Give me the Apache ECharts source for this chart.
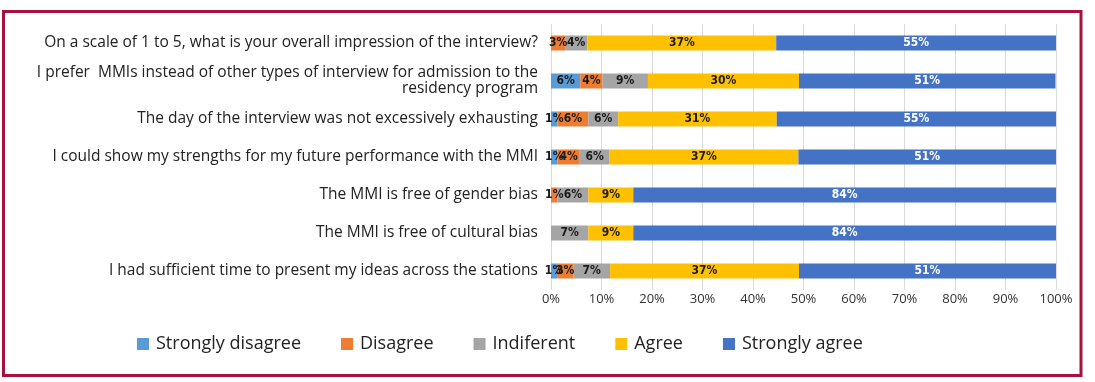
<!DOCTYPE html>
<html>
<head>
<meta charset="utf-8">
<script src="https://cdn.jsdelivr.net/npm/echarts@6/dist/echarts.min.js"></script>
<style>
html,body{margin:0;padding:0;background:#fff;}
#chart{width:1095px;height:382px;}
</style>
</head>
<body>
<div id="chart"></div>
<script>
const categories = [
  "On a scale of 1 to 5, what is your overall impression of the interview?",
  "I prefer  MMIs instead of other types of interview for admission to the\nresidency program",
  "The day of the interview was not excessively exhausting",
  "I could show my strengths for my future performance with the MMI",
  "The MMI is free of gender bias",
  "The MMI is free of cultural bias",
  "I had sufficient time to present my ideas across the stations"
];
const seriesNames = ["Strongly disagree", "Disagree", "Indiferent", "Agree", "Strongly agree"];
const stronglyDisagree = [0, 5.8, 1.3, 1.3, 0, 0, 1.2];
const disagree         = [2.8, 4.4, 6.1, 4.4, 1.3, 0, 3.2];
const indifferent      = [4.4, 9.0, 5.9, 5.9, 6.1, 7.4, 7.3];
const agree            = [37.4, 29.9, 31.4, 37.4, 8.9, 8.9, 37.4];
const stronglyAgree    = [55.4, 50.8, 55.3, 51.0, 83.7, 83.7, 50.9];
const xTicks = [0, 10, 20, 30, 40, 50, 60, 70, 80, 90, 100];

const colors = ["#5B9BD5", "#ED7D31", "#A5A5A5", "#FFC000", "#4472C4"];
const values = [stronglyDisagree, disagree, indifferent, agree, stronglyAgree];

const chart = echarts.init(document.getElementById('chart'), null, {renderer: 'canvas'});
const font = "'Open Sans', 'Noto Sans', sans-serif";
const labelFont = "'DejaVu Sans Condensed', 'Liberation Sans Narrow', sans-serif";

const series = seriesNames.map((name, i) => ({
  name: name,
  type: 'bar',
  stack: 'total',
  barWidth: 15,
  itemStyle: {color: colors[i]},
  label: {
    show: true,
    position: 'inside',
    fontFamily: labelFont,
    fontWeight: 'bold',
    fontSize: 12,
    color: i === 4 ? '#ffffff' : '#1a1a1a',
    formatter: p => p.value > 0 ? Math.round(p.value) + '%' : ''
  },
  data: values[i]
}));

chart.setOption({
  animation: false,
  textStyle: {fontFamily: font},
  graphic: [{
    type: 'rect',
    shape: {x: 3.5, y: 11.5, width: 1077.5, height: 364},
    style: {fill: 'none', stroke: '#A6123D', lineWidth: 3},
    silent: true
  }],
  grid: {left: 551, right: 39, top: 24, height: 266, containLabel: false},
  xAxis: {
    type: 'value',
    min: 0, max: 100, interval: 10,
    axisLine: {show: false},
    axisTick: {show: false},
    splitLine: {lineStyle: {color: '#D9D9D9', width: 1}},
    axisLabel: {
      formatter: v => xTicks.includes(v) ? v + '%' : '',
      color: '#333', fontSize: 13, fontFamily: font, margin: 3
    }
  },
  yAxis: {
    type: 'category',
    inverse: true,
    data: categories,
    axisLine: {show: false},
    axisTick: {show: false},
    axisLabel: {
      color: '#222', fontSize: 15.5, fontFamily: font, margin: 13,
      align: 'right', lineHeight: 16
    }
  },
  legend: {
    left: 132, top: 330,
    itemWidth: 12, itemHeight: 12, itemGap: 40,
    icon: 'rect',
    textStyle: {fontSize: 18, color: '#222', fontFamily: font, padding: [0,0,0,2]},
    data: seriesNames
  },
  series: series
});
</script>
</body>
</html>
